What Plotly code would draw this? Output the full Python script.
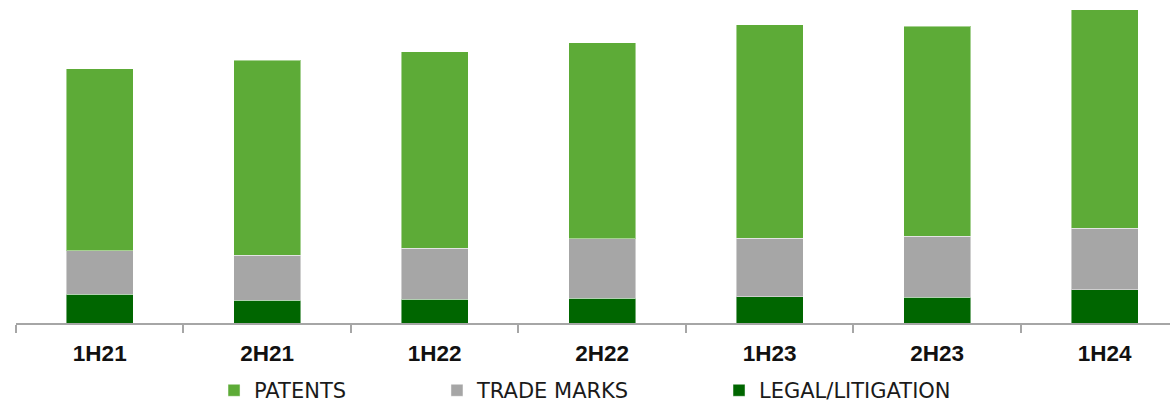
import plotly.graph_objects as go

periods = ["1H21", "2H21", "1H22", "2H22", "1H23", "2H23", "1H24"]
legal_litigation = [28.6, 23.0, 24.0, 25.0, 26.3, 25.6, 33.3]
trade_marks = [43.7, 45.0, 51.0, 59.3, 58.7, 61.4, 61.7]
patents = [182.0, 195.0, 196.6, 196.0, 213.3, 210.0, 218.3]

C_PATENTS = "#5DAB37"
C_TM = "#A6A6A6"
C_LEGAL = "#006600"
EDGE = dict(color="rgba(255,255,255,0.45)", width=1)

fig = go.Figure()
fig.add_trace(go.Bar(x=periods, y=legal_litigation, name="LEGAL/LITIGATION",
                     marker=dict(color=C_LEGAL, line=EDGE), width=0.4, legend="legend3"))
fig.add_trace(go.Bar(x=periods, y=trade_marks, name="TRADE MARKS",
                     marker=dict(color=C_TM, line=EDGE), width=0.4, legend="legend2"))
fig.add_trace(go.Bar(x=periods, y=patents, name="PATENTS",
                     marker=dict(color=C_PATENTS, line=EDGE), width=0.4, legend="legend"))

legend_font = dict(family="DejaVu Sans", size=21, color="#1a1a1a")
common = dict(orientation="h", yanchor="middle", y=-0.2094, xanchor="left",
              font=legend_font, bgcolor="rgba(0,0,0,0)", borderwidth=0)

fig.update_layout(
    width=1170, height=404,
    margin=dict(l=16, r=0, t=0, b=81, autoexpand=False),
    paper_bgcolor="white", plot_bgcolor="white",
    barmode="stack",
    showlegend=True,
    legend=dict(x=0.1716, **common),
    legend2=dict(x=0.3648, **common),
    legend3=dict(x=0.6092, **common),
    xaxis=dict(
        type="category",
        range=[-0.5, 6.39],
        showline=True, linecolor="#A6A6A6", linewidth=1.5,
        ticks="outside", tickson="boundaries", ticklen=8, tickcolor="#A6A6A6", tickwidth=1.5,
        ticklabelstandoff=9,
        tickfont=dict(family="Liberation Sans", size=22.5, color="#111111", weight="bold"),
        showgrid=False, zeroline=False, automargin=False,
    ),
    yaxis=dict(range=[0, 323.3], visible=False, showgrid=False, zeroline=False),
)

fig.write_html("out.html")
